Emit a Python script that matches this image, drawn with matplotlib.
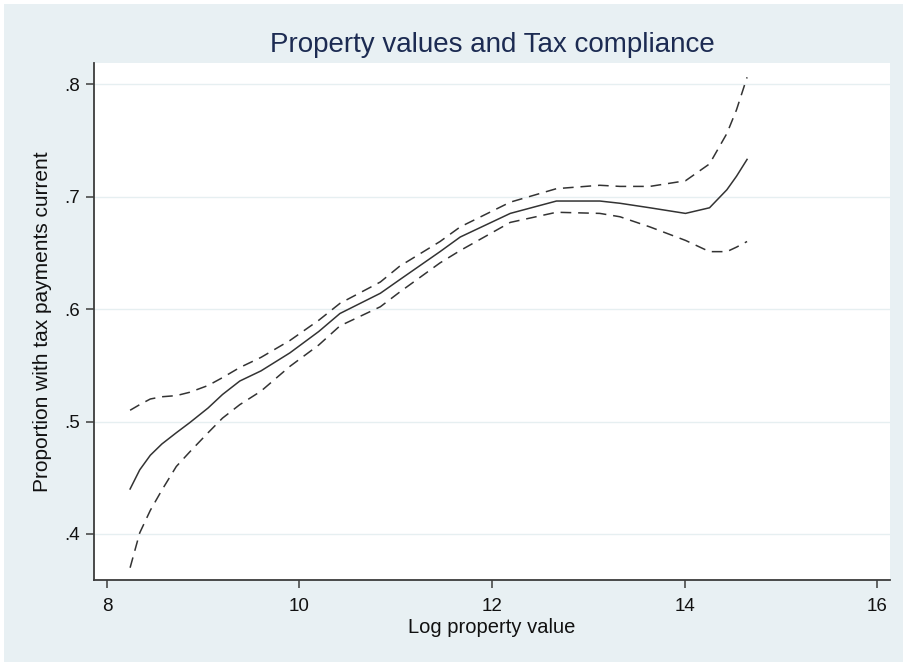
import matplotlib
matplotlib.use('Agg')
import matplotlib.pyplot as plt
from matplotlib.patches import Rectangle

# Log property value grid and fitted proportion with 95% band
log_value = [8.24, 8.34, 8.45, 8.57, 8.72, 8.86, 9.05, 9.20, 9.38, 9.60,
             9.90, 10.20, 10.42, 10.84, 11.04, 11.46, 11.67, 12.19, 12.67,
             13.12, 13.33, 13.64, 14.01, 14.26, 14.44, 14.54, 14.65]
fit = [0.440, 0.457, 0.470, 0.480, 0.490, 0.499, 0.512, 0.524, 0.536, 0.545,
       0.561, 0.580, 0.596, 0.614, 0.626, 0.651, 0.664, 0.685, 0.696,
       0.696, 0.694, 0.690, 0.685, 0.690, 0.706, 0.718, 0.733]
upper = [0.510, 0.515, 0.520, 0.522, 0.523, 0.526, 0.532, 0.539, 0.548, 0.557,
         0.572, 0.590, 0.605, 0.624, 0.638, 0.660, 0.673, 0.695, 0.707,
         0.710, 0.709, 0.709, 0.714, 0.729, 0.756, 0.777, 0.806]
lower = [0.370, 0.401, 0.421, 0.439, 0.460, 0.473, 0.490, 0.503, 0.515, 0.527,
         0.549, 0.568, 0.585, 0.602, 0.615, 0.641, 0.652, 0.677, 0.686,
         0.685, 0.682, 0.673, 0.661, 0.651, 0.651, 0.655, 0.660]

x_ticks = [8, 10, 12, 14, 16]
y_ticks = [0.4, 0.5, 0.6, 0.7, 0.8]
y_tick_labels = ['.4', '.5', '.6', '.7', '.8']

BG = '#e8f0f3'
plt.rcParams['font.family'] = ['Liberation Sans', 'DejaVu Sans']

fig = plt.figure(figsize=(9.04, 6.62), dpi=100)
fig.patch.set_facecolor('white')
# light bluish graph region, with a thin white margin top/left
fig.patches.append(Rectangle((4 / 904, 0), 1, 1 - 4 / 662, transform=fig.transFigure,
                             facecolor=BG, edgecolor='none', zorder=-10))

ax = fig.add_axes([94 / 904, 1 - 580 / 662, (890 - 94) / 904, (580 - 63) / 662])
ax.set_facecolor('white')

line_kw = dict(color='#333333', linewidth=1.1)
ax.plot(log_value, fit, linestyle='-', **line_kw)
ax.plot(log_value, upper, linestyle=(0, (7, 4.5)), **line_kw)
ax.plot(log_value, lower, linestyle=(0, (7, 4.5)), **line_kw)

ax.set_xlim(7.865, 16.135)
ax.set_ylim(0.3591, 0.8187)
ax.set_xticks(x_ticks)
ax.set_yticks(y_ticks)
ax.set_yticklabels(y_tick_labels)
ax.grid(axis='y', color='#e6eff1', linewidth=1.0)
ax.set_axisbelow(True)

for side in ['top', 'right']:
    ax.spines[side].set_visible(False)
for side in ['left', 'bottom']:
    ax.spines[side].set_color('#3c3c3c')
    ax.spines[side].set_linewidth(1.3)

ax.tick_params(axis='both', direction='out', length=6, width=1.1, color='#3c3c3c',
               labelsize=13.5, labelcolor='#111111')
ax.tick_params(axis='x', pad=7)
ax.tick_params(axis='y', pad=4)

ax.set_title('Property values and Tax compliance', fontsize=20, color='#1c2b52', pad=8)
ax.set_xlabel('Log property value', fontsize=14.5, color='#111111', labelpad=2)
ax.set_ylabel('Proportion with tax payments current', fontsize=15, color='#111111',
              labelpad=9)

fig.savefig('out.png', dpi=100, facecolor=fig.get_facecolor())
